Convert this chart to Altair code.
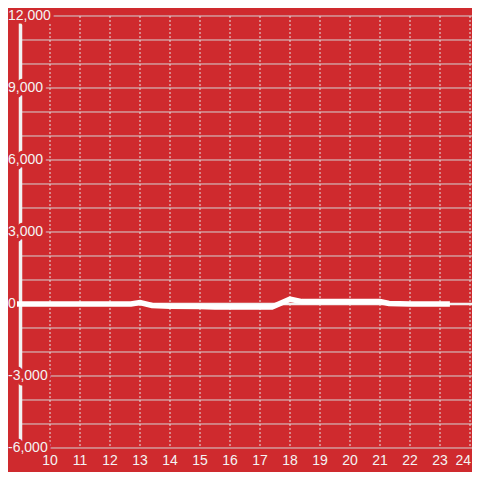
import altair as alt
import pandas as pd

# ---- data ----
x_ticks = list(range(10, 25))
y_grid = list(range(-6000, 12001, 1000))
y_label_values = [-6000, -3000, 0, 3000, 6000, 9000, 12000]
line_x = [8.9, 10, 11, 12, 12.7, 13, 13.4, 14, 15, 15.5, 16, 17, 17.4,
          18, 18.4, 19, 20, 21, 21.3, 22, 23, 23.33]
line_y = [0, 0, 0, 0, 0, 60, -60, -90, -100, -130, -130, -130, -130,
          200, 100, 100, 100, 100, 20, 0, 0, 0]

BG = "#CF2A2E"
GRID = "#d4d4d4"
TXT = "#f4f4f4"
FONT = "Liberation Sans"

W = 464
H = 464
# chart origin is at page (8, 8): 10 -> page x 50, 30 px per unit
xs = alt.Scale(domain=[8.6, 8.6 + W / 30.0], nice=False, zero=False)
# 12000 -> page y 16, 24 px per 1000
ys = alt.Scale(domain=[12333.33 - H / 0.024, 12333.33], nice=False, zero=False)

grid_df = pd.DataFrame({"v": y_grid})
xt_df = pd.DataFrame({"v": x_ticks, "t": [str(t) for t in x_ticks]})
xt_main = xt_df[xt_df["v"] < x_ticks[-1]]
xt_last = xt_df[xt_df["v"] == x_ticks[-1]]
yl_df = pd.DataFrame({"v": y_label_values,
                      "t": [f"{v:,}" for v in y_label_values]})
line_df = pd.DataFrame({"x": line_x, "y": line_y})
zero_df = pd.DataFrame({"v": [0]})

hgrid = alt.Chart(grid_df).mark_rule(color=GRID, strokeWidth=1).encode(
    y=alt.Y("v:Q", scale=ys, axis=None),
    x=alt.value(14), x2=alt.value(W))

vgrid = alt.Chart(xt_df).mark_rule(color="#e4e4e4", strokeWidth=1,
                                   strokeDash=[2, 2]).encode(
    x=alt.X("v:Q", scale=xs, axis=None),
    y=alt.value(8), y2=alt.value(440))

zero = alt.Chart(zero_df).mark_rule(color="#f2f2f2", strokeWidth=2.5).encode(
    y=alt.Y("v:Q", scale=ys, axis=None),
    x=alt.value(14), x2=alt.value(W))

bar = alt.Chart(zero_df).mark_rule(color="#f2f2f2", strokeWidth=3.5).encode(
    x=alt.value(12.5), y=alt.value(8), y2=alt.value(440))

halo = alt.Chart(yl_df).mark_text(align="left", baseline="middle", fontSize=14,
                                  font=FONT, color=BG, stroke=BG,
                                  strokeWidth=7, strokeJoin="round").encode(
    y=alt.Y("v:Q", scale=ys, axis=None), x=alt.value(0), text="t:N")

ylab = alt.Chart(yl_df).mark_text(align="left", baseline="middle", fontSize=14,
                                  font=FONT, color=TXT).encode(
    y=alt.Y("v:Q", scale=ys, axis=None), x=alt.value(0), text="t:N")

xlab = alt.Chart(xt_main).mark_text(align="center", baseline="middle",
                                    fontSize=14, font=FONT, color=TXT).encode(
    x=alt.X("v:Q", scale=xs, axis=None), y=alt.value(453), text="t:N")

xlab_last = alt.Chart(xt_last).mark_text(align="right", baseline="middle",
                                         fontSize=14, font=FONT, color=TXT).encode(
    x=alt.value(W - 1), y=alt.value(453), text="t:N")

line = alt.Chart(line_df).mark_line(color="#ffffff", strokeWidth=5.5,
                                    strokeCap="butt").encode(
    x=alt.X("x:Q", scale=xs, axis=None),
    y=alt.Y("y:Q", scale=ys, axis=None))

chart = alt.layer(hgrid, vgrid, zero, bar, halo, ylab, xlab, xlab_last,
                  line).properties(
    width=W, height=H, padding=0, autosize="none", background=BG
).configure_view(strokeWidth=0)

chart.save("out.html", embed_options={"renderer": "svg", "actions": False})
